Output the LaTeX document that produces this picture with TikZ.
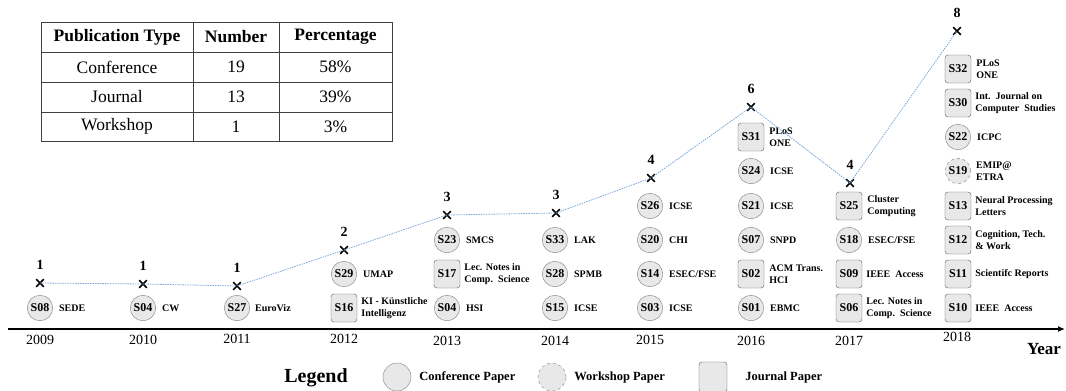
\documentclass[tikz,border=0pt]{standalone}
\usepackage{fontspec}
\setmainfont{Liberation Serif}
\usetikzlibrary{arrows.meta,positioning,shapes.misc}
\definecolor{paperfill}{HTML}{E8E8E8}
\definecolor{paperedge}{HTML}{808080}
\definecolor{trendblue}{HTML}{7BA7DA}

\begin{document}
\begin{tikzpicture}[x=1pt,y=-1pt,
  conf/.style={circle,draw=paperedge,fill=paperfill,minimum size=25.5pt,inner sep=0pt,
    font=\fontsize{12}{12}\selectfont\bfseries},
  wksp/.style={conf,dashed},
  jour/.style={rectangle,rounded corners=3pt,draw=paperedge!70!black,fill=paperfill,
    minimum width=26pt,minimum height=28pt,inner sep=0pt,font=\fontsize{12}{12}\selectfont\bfseries},
  venue/.style={align=left,inner sep=0pt,font=\fontsize{10}{11.5}\selectfont\bfseries},
  xmark/.style={cross out,draw=black,line width=1.7pt,minimum size=6pt,inner sep=0pt},
  tally/.style={inner sep=0pt,font=\fontsize{14}{14}\selectfont\bfseries},
  yearlbl/.style={font=\fontsize{14}{14}\selectfont},
  cell/.style={font=\fontsize{17.5}{18}\selectfont},
  head/.style={font=\fontsize{17.5}{18}\selectfont\bfseries}]
  \useasboundingbox (0,0) rectangle (1066,391);

  % summary table
  \draw[line width=0.8pt,black!75] (41,22) rectangle (392,141);
  \draw[line width=0.8pt,black!75] (41,52) -- (392,52) (41,82) -- (392,82) (41,112) -- (392,112)
    (193,22) -- (193,141) (279,22) -- (279,141);
  \node[head] (htype) at (117,37) {Publication Type};
  \node[head] (hnum) at (236,37) {Number};
  \node[head] (hpct) at (335.5,37) {Percentage};
  \node[cell] (tconf) at (117,67) {Conference};
  \node[cell] (nconf) at (236,67) {19};
  \node[cell] (pconf) at (335.5,67) {58\%};
  \node[cell] (tjour) at (117,97) {Journal};
  \node[cell] (njour) at (236,97) {13};
  \node[cell] (pjour) at (335.5,97) {39\%};
  \node[cell] (twksp) at (117,126.5) {Workshop};
  \node[cell] (nwksp) at (236,126.5) {1};
  \node[cell] (pwksp) at (335.5,126.5) {3\%};

  % time axis
  \coordinate (axl) at (8,329);
  \coordinate (axr) at (1065,329);
  \draw[line width=1.9pt,-{Latex[length=7pt,width=6pt]}] (axl) -- (axr);
  \foreach \yr/\x/\y in {2009/40/340,2010/143/340,2011/237/339,2012/344/339,2013/447/341,
      2014/555/341,2015/650/340,2016/751/341,2017/849/341,2018/957/337}
    \node[yearlbl] (y\yr) at (\x,\y) {\yr};
  \node[font=\fontsize{17}{17}\selectfont\bfseries] (yearttl) at (1044,349) {Year};

  % papers per year
  \node[conf] (s08) at (40,308) {S08};
  \node[venue,right=6pt of s08] (v08) {SEDE};
  \node[conf] (s04a) at (143,308) {S04};
  \node[venue,right=6pt of s04a] (v04a) {CW};
  \node[conf] (s27) at (237,308) {S27};
  \node[venue,right=5pt of s27] (v27) {EuroViz};

  \node[conf] (s29) at (344,274) {S29};
  \node[venue,right=6pt of s29] (v29) {UMAP};
  \node[jour] (s16) at (344,308) {S16};
  \node[venue,right=4pt of s16] (v16) {KI - Künstliche\\Intelligenz};

  \node[conf] (s23) at (447,240) {S23};
  \node[venue,right=6pt of s23] (v23) {SMCS};
  \node[jour] (s17) at (447,274) {S17};
  \node[venue,right=4pt of s17] (v17) {Lec. Notes in\\Comp.\ \ Science};
  \node[conf] (s04b) at (447,308) {S04};
  \node[venue,right=6pt of s04b] (v04b) {HSI};

  \node[conf] (s33) at (555,240) {S33};
  \node[venue,right=6pt of s33] (v33) {LAK};
  \node[conf] (s28) at (555,274) {S28};
  \node[venue,right=6pt of s28] (v28) {SPMB};
  \node[conf] (s15) at (555,308) {S15};
  \node[venue,right=6pt of s15] (v15) {ICSE};

  \node[conf] (s26) at (650,206) {S26};
  \node[venue,right=6pt of s26] (v26) {ICSE};
  \node[conf] (s20) at (650,240) {S20};
  \node[venue,right=6pt of s20] (v20) {CHI};
  \node[conf] (s14) at (650,274) {S14};
  \node[venue,right=6pt of s14] (v14) {ESEC/FSE};
  \node[conf] (s03) at (650,308) {S03};
  \node[venue,right=6pt of s03] (v03) {ICSE};

  \node[jour] (s31) at (751,137) {S31};
  \node[venue,right=5pt of s31] (v31) {PLoS\\ONE};
  \node[conf] (s24) at (751,171) {S24};
  \node[venue,right=6pt of s24] (v24) {ICSE};
  \node[conf] (s21) at (751,206) {S21};
  \node[venue,right=6pt of s21] (v21) {ICSE};
  \node[conf] (s07) at (751,240) {S07};
  \node[venue,right=6pt of s07] (v07) {SNPD};
  \node[jour] (s02) at (751,274) {S02};
  \node[venue,right=5pt of s02] (v02) {ACM Trans.\\HCI};
  \node[conf] (s01) at (751,308) {S01};
  \node[venue,right=6pt of s01] (v01) {EBMC};

  \node[jour] (s25) at (849,206) {S25};
  \node[venue,right=5pt of s25] (v25) {Cluster\\Computing};
  \node[conf] (s18) at (849,240) {S18};
  \node[venue,right=6pt of s18] (v18) {ESEC/FSE};
  \node[jour] (s09) at (849,274) {S09};
  \node[venue,right=4pt of s09] (v09) {IEEE\ \ Access};
  \node[jour] (s06) at (849,308) {S06};
  \node[venue,right=4pt of s06] (v06) {Lec. Notes in\\Comp.\ \ Science};

  \node[jour] (s32) at (958,69) {S32};
  \node[venue,right=5pt of s32] (v32) {PLoS\\ONE};
  \node[jour] (s30) at (958,103) {S30};
  \node[venue,right=4pt of s30] (v30) {Int.\ \ Journal on\\Computer\ \ Studies};
  \node[conf] (s22) at (958,137) {S22};
  \node[venue,right=6pt of s22] (v22) {ICPC};
  \node[wksp] (s19) at (958,171) {S19};
  \node[venue,right=5pt of s19] (v19) {EMIP@\\ETRA};
  \node[jour] (s13) at (958,206) {S13};
  \node[venue,right=4pt of s13] (v13) {Neural Processing\\Letters};
  \node[jour] (s12) at (958,240) {S12};
  \node[venue,right=4pt of s12] (v12) {Cognition, Tech.\\\& Work};
  \node[jour] (s11) at (958,274) {S11};
  \node[venue,right=4pt of s11] (v11) {Scientifc Reports};
  \node[jour] (s10) at (958,308) {S10};
  \node[venue,right=4pt of s10] (v10) {IEEE\ \ Access};

  % yearly counts and trend
  \foreach \k/\x/\y/\n in {09/40/283/1,10/143/284/1,11/237/286/1,12/344/250/2,13/447/215/3,
      14/556/213/3,15/651/178/4,16/751/107/6,17/850/183/4,18/957/31/8} {
    \node[xmark] (m\k) at (\x,\y) {};
    \node[tally,above=9pt of m\k] (c\k) {\n};
  }
  \draw[trendblue,line width=0.8pt,dash pattern=on 1.5pt off 1pt]
    (m09.center) -- (m10.center) -- (m11.center) -- (m12.center) -- (m13.center)
    -- (m14.center) -- (m15.center) -- (m16.center) -- (m17.center) -- (m18.center);

  % legend
  \node[font=\fontsize{20}{20}\selectfont\bfseries] (legttl) at (316,378) {Legend};
  \node[conf,minimum size=28pt] (lconf) at (397,377) {};
  \node[venue,font=\fontsize{12.5}{13}\selectfont\bfseries,right=8pt of lconf] (lconftxt) {Conference Paper};
  \node[wksp,minimum size=28pt] (lwksp) at (552,377) {};
  \node[venue,font=\fontsize{12.5}{13}\selectfont\bfseries,right=8pt of lwksp] (lwksptxt) {Workshop Paper};
  \node[jour,minimum width=28pt,minimum height=30pt] (ljour) at (713,377) {};
  \node[venue,font=\fontsize{12.5}{13}\selectfont\bfseries,right=18pt of ljour] (ljourtxt) {Journal Paper};
\end{tikzpicture}
\end{document}
